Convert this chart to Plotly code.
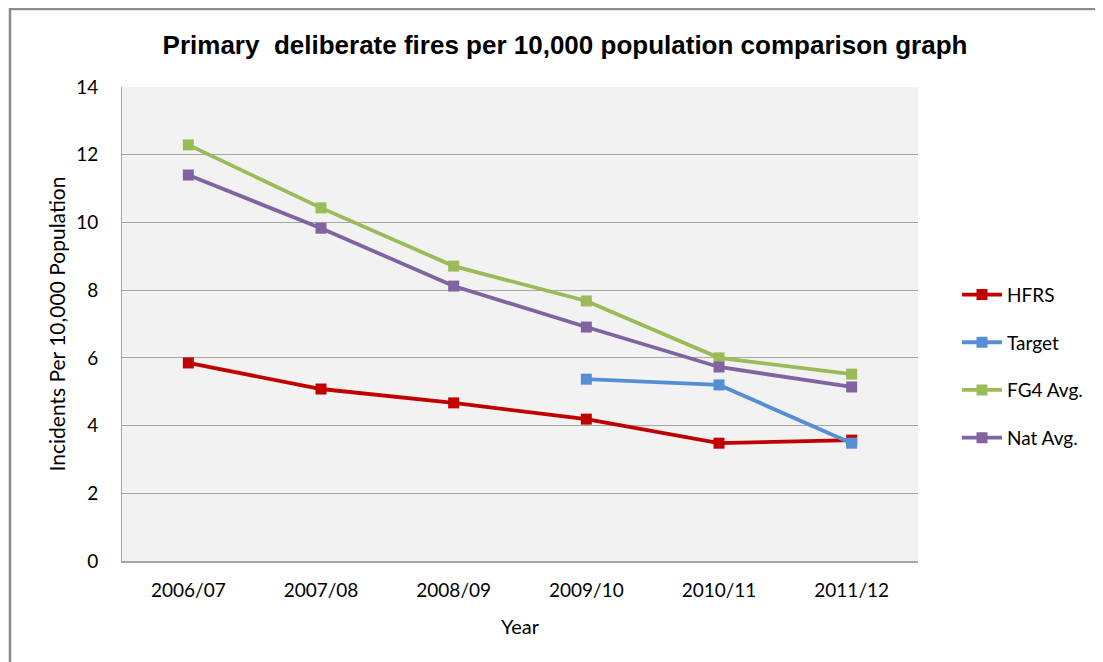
import plotly.graph_objects as go

years = ["2006/07", "2007/08", "2008/09", "2009/10", "2010/11", "2011/12"]
hfrs = [5.85, 5.08, 4.67, 4.19, 3.48, 3.57]
target = [None, None, None, 5.37, 5.20, 3.48]
fg4 = [12.29, 10.43, 8.71, 7.68, 6.00, 5.52]
nat = [11.40, 9.83, 8.12, 6.91, 5.73, 5.14]

series = [
    ("HFRS", hfrs, "#C00000"),
    ("Target", target, "#558ED5"),
    ("FG4 Avg.", fg4, "#9BBB59"),
    ("Nat Avg.", nat, "#8064A2"),
]

fig = go.Figure()
for name, vals, color in series:
    fig.add_trace(go.Scatter(
        x=years, y=vals, name=name, mode="lines+markers",
        line=dict(color=color, width=3.8),
        marker=dict(symbol="square", size=11, color=color),
        legendgroup=name,
    ))

fig.update_layout(
    width=1103, height=662,
    margin=dict(l=114, r=193, t=79, b=109),
    paper_bgcolor="white",
    plot_bgcolor="#F2F2F2",
    font=dict(family="Lato, Open Sans, sans-serif", color="#000000", size=19),
    title=dict(
        text="<b>Primary  deliberate fires per 10,000 population comparison graph</b>",
        x=0.505, xanchor="center", y=0.944, yanchor="middle",
        font=dict(family="Liberation Sans, Arial", size=26, color="#000"),
    ),
    showlegend=True,
    legend=dict(
        x=1.049, xanchor="left", y=0.411, yanchor="middle",
        font=dict(size=19), tracegroupgap=20, itemwidth=40,
        bgcolor="rgba(0,0,0,0)",
    ),
    xaxis=dict(
        type="category", range=[-0.5, 5.5], showgrid=False,
        showline=True, linecolor="#A6A6A6", linewidth=2,
        ticks="", tickfont=dict(size=19), ticklabelstandoff=11,
        title=dict(text="Year", font=dict(size=20), standoff=20),
    ),
    yaxis=dict(
        range=[0, 14], dtick=2, showgrid=True, gridcolor="#A6A6A6", gridwidth=1.3,
        showline=True, linecolor="#A6A6A6", linewidth=1, zeroline=False,
        ticks="", tickfont=dict(size=19), ticklabelstandoff=19,
        title=dict(text="Incidents Per 10,000 Population", font=dict(size=21), standoff=4),
    ),
    shapes=[
        dict(type="line", xref="paper", yref="paper", x0=-0.142, x1=1.3, y0=1.1646, y1=1.1646,
             line=dict(color="#8C8C8C", width=2.5)),
        dict(type="line", xref="paper", yref="paper", x0=-0.1407, x1=-0.1407, y0=1.166, y1=-0.3,
             line=dict(color="#8C8C8C", width=2.5)),
    ],
)

fig.write_html("out.html")
